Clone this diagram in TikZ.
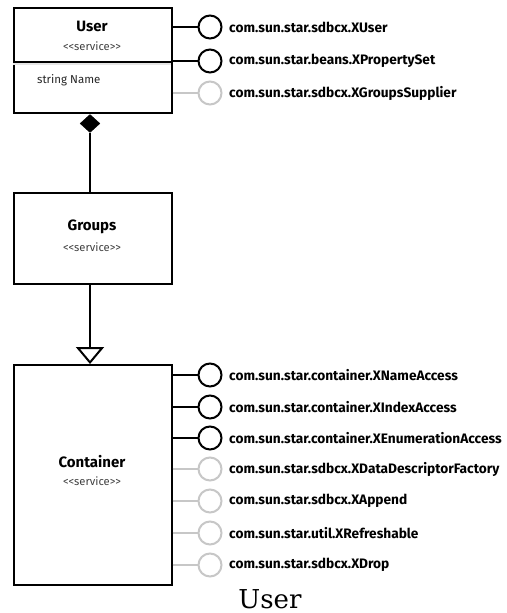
\documentclass[tikz,border=0pt]{standalone}
\usepackage{fontspec}
\newfontfamily\uifont{Fira Sans}
\newfontfamily\capfont{DejaVu Serif}
\usetikzlibrary{shapes.geometric,arrows.meta}
\begin{document}
\begin{tikzpicture}[x=1pt,y=-1pt,
 box/.style={draw=black,line width=1.5pt,minimum width=158pt,anchor=north west,inner sep=0pt,fill=white},
 req/.style={circle,draw=black,line width=2pt,minimum size=23pt,inner sep=0pt},
 opt/.style={circle,draw=black!22,line width=2pt,minimum size=23pt,inner sep=0pt},
 reqline/.style={draw=black,line width=2pt},
 optline/.style={draw=black!22,line width=2pt},
 iface/.style={anchor=west,font=\uifont\bfseries\fontsize{13.7}{15}\selectfont,inner sep=0pt},
 title/.style={font=\uifont\bfseries\fontsize{15}{17}\selectfont,inner sep=0pt},
 stereo/.style={font=\uifont\fontsize{11.2}{13}\selectfont,text=black!75,inner sep=0pt},
 attr/.style={anchor=west,font=\uifont\fontsize{11.5}{13}\selectfont,text=black!85,inner sep=0pt},
 link/.style={line width=2pt,draw=black}
]
\useasboundingbox (0,0) rectangle (506,613);

% boxes
\node[box,minimum height=105pt] (user) at (13,7) {};
\node[box,minimum height=91pt] (groups) at (13,192) {};
\node[box,minimum height=220pt] (container) at (13,364) {};

% user compartments
\coordinate (dl) at (13,62);
\coordinate (dr) at (171,62);
\draw[black!10,line width=2pt] ([yshift=-2pt]dl) -- ([yshift=-2pt]dr);
\draw[line width=1.5pt] (dl) -- (dr);

% box texts
\node[title] (usert) at (92,26) {User};
\node[stereo] (users) at (92,46) {<{}<service>{}>};
\node[attr] (usera) at (37,80) {string Name};
\node[title] (groupst) at (92,227) {Groups};
\node[stereo] (groupss) at (92,247) {<{}<service>{}>};
\node[title] (containert) at (92,462) {Container};
\node[stereo] (containers) at (92,481) {<{}<service>{}>};

% composition
\node[diamond,fill=black,draw=black,inner sep=0pt,minimum width=20pt,minimum height=18pt] (dia) at (90,123.5) {};
\draw[link] (dia.south) -- (dia.south |- groups.north);

% generalization
\draw[link,-{Triangle[open,width=28pt,length=17pt,line width=2pt]}] (groups.south -| dia) -- (dia |- container.north);

% interfaces of User
\foreach \y/\t/\s [count=\i] in {27/com.sun.star.sdbcx.XUser/req,
  61/com.sun.star.beans.XPropertySet/req,
  93/com.sun.star.sdbcx.XGroupsSupplier/opt}{
  \node[\s] (u\i) at (210,\y) {};
  \draw[\s line] (user.east |- u\i) -- (u\i);
  \node[iface] (ul\i) at (229,\y) {\t};
}

% interfaces of Container
\foreach \y/\t/\s [count=\i] in {375/com.sun.star.container.XNameAccess/req,
  407/com.sun.star.container.XIndexAccess/req,
  438/com.sun.star.container.XEnumerationAccess/req,
  469/com.sun.star.sdbcx.XDataDescriptorFactory/opt,
  501/com.sun.star.sdbcx.XAppend/opt,
  533/com.sun.star.util.XRefreshable/opt,
  565/com.sun.star.sdbcx.XDrop/opt}{
  \node[\s] (k\i) at (210,\y) {};
  \draw[\s line] (container.east |- k\i) -- (k\i);
  \node[iface] (kl\i) at (229,\y) {\t};
}

% caption
\node[font=\capfont\fontsize{26}{28}\selectfont,inner sep=0pt,anchor=base] (caption) at (270,608) {User};
\end{tikzpicture}
\end{document}
